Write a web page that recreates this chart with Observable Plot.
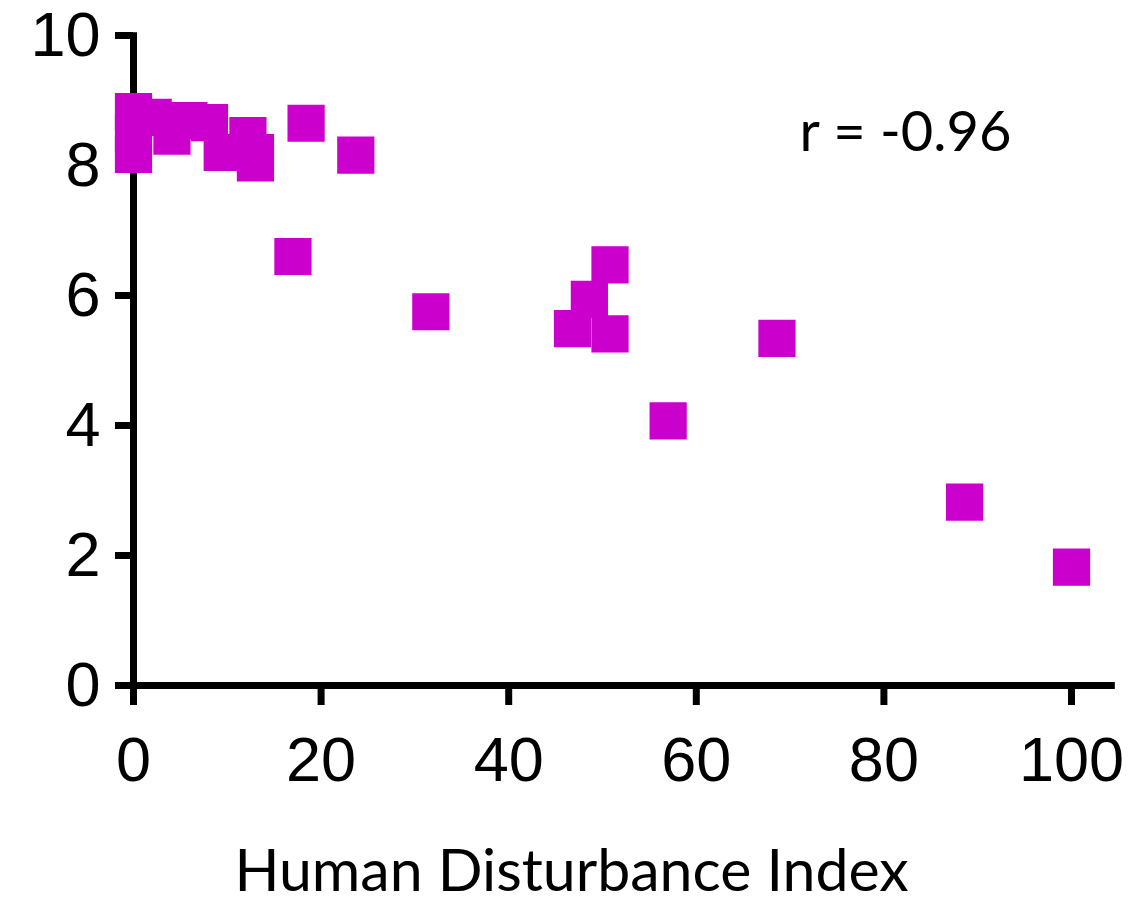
<!DOCTYPE html>
<html>
<head>
<meta charset="utf-8">
<script src="https://cdn.jsdelivr.net/npm/d3@7"></script>
<script src="https://cdn.jsdelivr.net/npm/@observablehq/plot@0.6"></script>
<style>
  html, body { margin: 0; padding: 0; background: #fff; }
  #chart svg { display: block; }
</style>
</head>
<body>
<div id="chart"></div>
<script>
// Human Disturbance Index (x) and response value (y)
const hdi   = [0, 0, 0, 2.1, 4.1, 5.9, 8.1, 9.46, 12.2, 13.0, 13.0, 18.4, 23.7, 17.0, 31.7, 50.8, 48.6, 46.8, 50.8, 57.0, 68.6, 88.6, 100];
const score = [8.83, 8.5, 8.17, 8.74, 8.45, 8.69, 8.66, 8.2, 8.46, 8.2, 8.04, 8.65, 8.16, 6.60, 5.75, 6.47, 5.94, 5.49, 5.41, 4.07, 5.34, 2.82, 1.82];
const xTicks = [0, 20, 40, 60, 80, 100];
const yTicks = [0, 2, 4, 6, 8, 10];
const xLabel = "Human Disturbance Index";
const rLabel = "r = -0.96";

const data = hdi.map((x, i) => ({x, y: score[i]}));
const magenta = "#cc00cc";

const chart = Plot.plot({
  width: 1128,
  height: 910,
  marginLeft: 133,
  marginRight: 57,
  marginTop: 35,
  marginBottom: 225,
  x: {domain: [0, 100]},
  y: {domain: [0, 10]},
  style: {fontFamily: "'Liberation Sans', Arial, sans-serif", background: "#fff", color: "#000"},
  marks: [
    Plot.axisX({ticks: xTicks, tickSize: 20, tickPadding: 31, strokeWidth: 7, fontSize: 63, label: null, tickFormat: d => String(d)}),
    Plot.axisY({ticks: yTicks, tickSize: 18, tickPadding: 15, strokeWidth: 7, fontSize: 63, label: null, tickFormat: d => String(d)}),
    Plot.ruleY([0], {x1: -1.5, x2: 104.3, stroke: "#000", strokeWidth: 7, strokeLinecap: "square"}),
    Plot.ruleX([0], {y1: -0.24, y2: 9.99, stroke: "#000", strokeWidth: 7, strokeLinecap: "square"}),
    Plot.dot(data, {x: "x", y: "y", symbol: "square", r: 21, fill: magenta, stroke: "none"}),
    Plot.text([rLabel], {frameAnchor: "top-right", dx: -166, dy: 98, text: d => d, textAnchor: "middle", lineAnchor: "middle", fontSize: 56, fontFamily: "Lato, 'Open Sans', sans-serif", fill: "#000"}),
    Plot.text([xLabel], {frameAnchor: "bottom", dx: -31, dy: 187, text: d => d, textAnchor: "middle", lineAnchor: "middle", fontSize: 59, fontFamily: "Lato, 'Open Sans', sans-serif", fill: "#000"})
  ]
});
document.getElementById("chart").appendChild(chart);
</script>
</body>
</html>
